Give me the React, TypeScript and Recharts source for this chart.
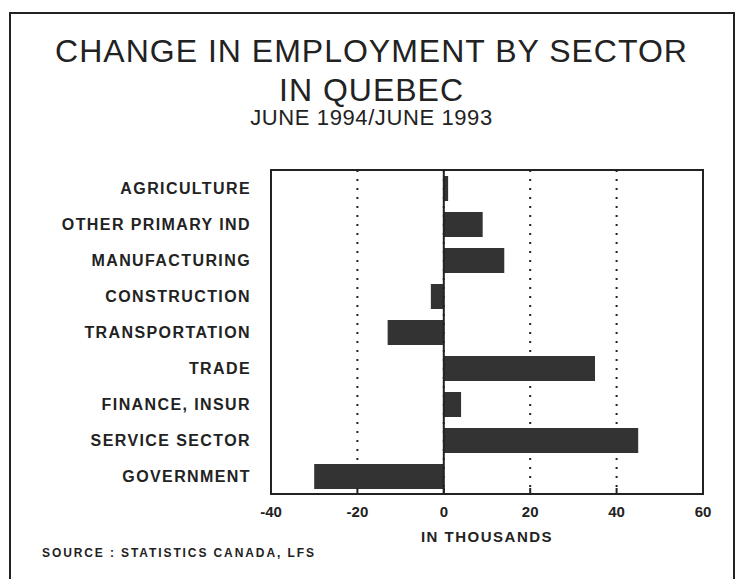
import { BarChart, Bar, XAxis, YAxis, CartesianGrid, ReferenceLine, ReferenceArea } from 'recharts';

const sectors = [
  'AGRICULTURE',
  'OTHER PRIMARY IND',
  'MANUFACTURING',
  'CONSTRUCTION',
  'TRANSPORTATION',
  'TRADE',
  'FINANCE, INSUR',
  'SERVICE SECTOR',
  'GOVERNMENT',
];
const changes = [1, 9, 14, -3, -13, 35, 4, 45, -30];
const xTicks = [-40, -20, 0, 20, 40, 60];

const data = sectors.map((s, i) => ({ sector: s, change: changes[i] }));

const labelFont = '"Liberation Sans", Arial, sans-serif';

export default function App() {
  return (
    <div style={{ position: 'absolute', left: 0, top: 0, width: 743, height: 579, background: '#fff', fontFamily: labelFont }}>
      {/* outer frame */}
      <div style={{ position: 'absolute', left: 9, top: 12, width: 726, height: 567, border: '2px solid #222', borderBottom: 'none', boxSizing: 'border-box' }} />
      <div style={{ position: 'absolute', left: 0, width: 743, top: 35, textAlign: 'center', fontSize: 32, color: '#222', lineHeight: '32px', letterSpacing: 1 }}>
        CHANGE IN EMPLOYMENT BY SECTOR
      </div>
      <div style={{ position: 'absolute', left: 0, width: 743, top: 74, textAlign: 'center', fontSize: 32, color: '#222', lineHeight: '32px', letterSpacing: 1 }}>
        IN QUEBEC
      </div>
      <div style={{ position: 'absolute', left: 0, width: 743, top: 107, textAlign: 'center', fontSize: 22, color: '#222', lineHeight: '22px', letterSpacing: 0.6 }}>
        JUNE 1994/JUNE 1993
      </div>
      <div style={{ position: 'absolute', left: 0, width: 743, top: 0 }}>
        <BarChart
          width={743}
          height={579}
          data={data}
          layout="vertical"
          margin={{ top: 170, right: 40, bottom: 35, left: 11 }}
        >
          <CartesianGrid horizontal={false} vertical stroke="#222" strokeDasharray="2 7" strokeWidth={2} />
          <XAxis
            type="number"
            domain={[-40, 60]}
            ticks={xTicks}
            height={50}
            axisLine={false}
            tickLine={{ stroke: '#222', strokeWidth: 2 }}
            tickSize={-6}
            tickMargin={18}
            tick={{ fill: '#222', fontSize: 15, fontWeight: 'bold', fontFamily: labelFont }}
            label={{ value: 'IN THOUSANDS', position: 'insideBottom', offset: 2, fill: '#222', fontSize: 15, fontWeight: 'bold', fontFamily: labelFont, letterSpacing: 1.5 }}
          />
          <YAxis
            type="category"
            dataKey="sector"
            width={260}
            axisLine={false}
            tickLine={false}
            tickSize={0}
            tickMargin={20}
            interval={0}
            tick={{ fill: '#222', fontSize: 16, fontWeight: 'bold', fontFamily: labelFont, letterSpacing: 1.4 }}
          />
          <ReferenceLine x={0} stroke="#222" strokeWidth={2} />
          <ReferenceArea x1={-40} x2={60} fill="none" fillOpacity={0} stroke="#222" strokeWidth={2} />
          <Bar dataKey="change" fill="#333" barSize={25} isAnimationActive={false} />
        </BarChart>
      </div>
      <div style={{ position: 'absolute', left: 42, top: 546, fontSize: 12, fontWeight: 'bold', color: '#222', letterSpacing: 1.9 }}>
        SOURCE : STATISTICS CANADA, LFS
      </div>
    </div>
  );
}
